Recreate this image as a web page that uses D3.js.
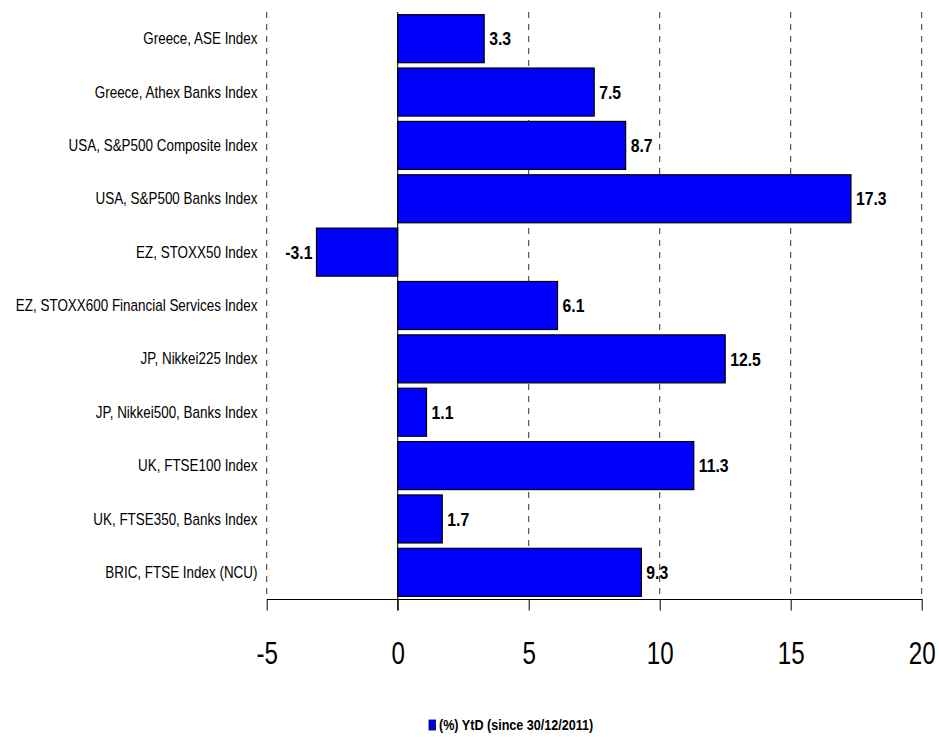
<!DOCTYPE html>
<html><head><meta charset="utf-8">
<script src="https://cdn.jsdelivr.net/npm/d3@7"></script>
<style>body{margin:0;background:#fff}</style>
</head><body>
<svg id="chart" width="939" height="737"></svg>
<script>
const categories = ["Greece, ASE Index","Greece, Athex Banks Index","USA, S&P500 Composite Index","USA, S&P500 Banks Index","EZ, STOXX50 Index","EZ, STOXX600 Financial Services Index","JP, Nikkei225 Index","JP, Nikkei500, Banks Index","UK, FTSE100 Index","UK, FTSE350, Banks Index","BRIC, FTSE Index (NCU)"];
const values = [3.3,7.5,8.7,17.3,-3.1,6.1,12.5,1.1,11.3,1.7,9.3];
const tickValues = [-5,0,5,10,15,20];
const seriesName = "(%) YtD (since 30/12/2011)";

const font = "'Liberation Sans','Arial',sans-serif";
const svg = d3.select("#chart");
const x = d3.scaleLinear().domain([-5,20]).range([266.7,921.7]);
const y = d3.scaleBand().domain(categories).range([12,599]).paddingInner(0.1).paddingOuter(0.05);

// gridlines
svg.append("g").selectAll("line").data(tickValues.filter(d=>d!==0)).join("line")
  .attr("x1",d=>x(d)).attr("x2",d=>x(d)).attr("y1",12).attr("y2",599)
  .attr("stroke","#333").attr("stroke-width",1).attr("stroke-dasharray","6,6");

// bars
svg.append("g").selectAll("rect").data(values).join("rect")
  .attr("x",d=>x(Math.min(0,d))).attr("width",d=>Math.abs(x(d)-x(0)))
  .attr("y",(d,i)=>y(categories[i])).attr("height",y.bandwidth())
  .attr("fill","#0000ff").attr("stroke","#000").attr("stroke-width",1.2);

// zero line
svg.append("line").attr("x1",x(0)).attr("x2",x(0)).attr("y1",12).attr("y2",610.5)
  .attr("stroke","#000").attr("stroke-width",1);

// x axis
const xAxis = d3.axisBottom(x).tickValues(tickValues).tickSize(11.5).tickSizeOuter(0).tickFormat(d=>String(d));
const ga = svg.append("g").attr("transform","translate(0,599)").call(xAxis);
ga.select(".domain").attr("stroke","#000");
ga.selectAll(".tick line").attr("stroke","#000");
ga.selectAll(".tick text").attr("font-family",font).attr("font-size",31).attr("fill","#000")
  .attr("y",65).attr("dy",null).attr("transform","scale(0.78,1)");

// category labels
svg.append("g").selectAll("text").data(categories).join("text")
  .attr("transform",d=>`translate(257.5,${y(d)+y.bandwidth()/2}) scale(0.84,1)`)
  .attr("dy","0.35em")
  .attr("text-anchor","end").attr("font-family",font).attr("font-size",16).attr("fill","#000")
  .text(d=>d);

// value labels
svg.append("g").selectAll("text").data(values).join("text")
  .attr("transform",(d,i)=>`translate(${d>=0 ? x(d)+5 : x(d)-4},${y(categories[i])+y.bandwidth()/2}) scale(0.83,1)`)
  .attr("dy","0.35em")
  .attr("text-anchor",d=>d>=0?"start":"end")
  .attr("font-family",font).attr("font-weight","bold").attr("font-size",19).attr("fill","#000")
  .text(d=>d.toFixed(1));

// legend
const lg = svg.append("g").attr("transform","translate(429,720)");
lg.append("rect").attr("x",0).attr("y",0).attr("width",6.5).attr("height",10).attr("fill","#0000ff").attr("stroke","#000").attr("stroke-width",0.8);
lg.append("text").attr("transform","translate(10,5) scale(0.9,1)").attr("dy","0.35em").attr("font-family",font).attr("font-weight","bold").attr("font-size",14).attr("fill","#000").text(seriesName);
</script>
</body></html>
